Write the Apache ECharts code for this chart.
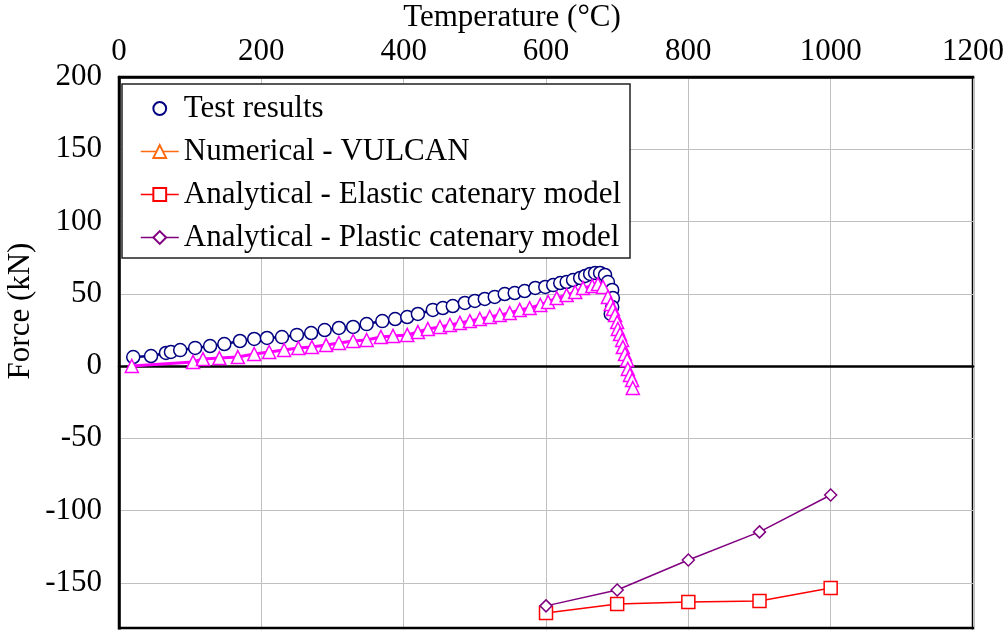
<!DOCTYPE html>
<html>
<head>
<meta charset="utf-8">
<script src="https://cdn.jsdelivr.net/npm/echarts@6/dist/echarts.min.js"></script>
<style>
  html,body{margin:0;padding:0;background:#fff;}
  #main{width:1006px;height:632px;}
</style>
</head>
<body>
<div id="main"></div>
<script>
// axis ticks
var xTicks=[0,200,400,600,800,1000,1200];
var yTicks=[-200,-150,-100,-50,0,50,100,150,200];

// Test results (temperature, force)
var testT=[20,45,66,73,86,107,128,148,170,190,208,229,250,270,289,309,329,348,370,388,405,420,
  441,455,469,486,500,514,528,542,556,570,585,599,610,620,629,638,648,655,662,669,676,683,687,693,694,693,691];
var testF=[6.2,6.9,9,9.7,11,12.5,13.8,15.2,17.3,18.7,19.4,20,21.5,22.8,24.9,26.3,27,29,31.1,32.5,33.9,36,
  38.8,40.1,41.5,43.6,45,46.4,47.8,49.8,50.5,51.9,54,54.7,56,57.4,58.1,59.5,60.9,62.3,63.7,64.4,64.4,63,58.1,52.6,47,40.8,36];

// Numerical - VULCAN
var vulT=[18,104,118,141,167,190,211,232,252,271,291,309,329,348,368,385,405,420,434,451,465,479,493,507,521,535,549,563,577,592,
  603,615,629,641,652,665,673,680,687,691,694,697,700,701,704,707,708,711,714,715,718,721,722];
var vulF=[0,2.8,4.8,5.5,6.2,8.3,9.7,11.1,12.5,13.1,14.5,15.9,17.3,18,20.1,20.8,21.5,23.5,25.6,27,28.4,29.8,31.1,32.5,33.9,35.3,36.7,38.8,40.1,42.2,
  44.3,47,49.1,51.2,54,55.4,56.7,54.7,47.8,42.9,39.4,35.3,30.4,25.6,22.1,18,13.1,8.3,4.2,-2.1,-6.2,-9.7,-15.2];

// Analytical models
var anaT=[600,700,800,900,1000];
var elasticF=[-171,-164.7,-163.3,-162.6,-153.6];
var plasticF=[-166,-155,-134.3,-114.8,-89.3];

var font="Liberation Serif";

var pairs=function(xs,ys){
  var out=[];
  for(var i=0;i<xs.length;i++){ out.push([xs[i],ys[i]]); }
  return out;
}
var plain=function(v){ return String(v); }

var myChart=echarts.init(document.getElementById('main'));

var options={
  animation:false,
  backgroundColor:'#fff',
  grid:{
    left:119,top:77,width:854,height:578,
    outerBoundsMode:'none',containLabel:false,
    show:true,borderColor:'#000',borderWidth:2.5,backgroundColor:'transparent'
  },
  legend:{
    orient:'vertical',
    left:122,top:84,
    backgroundColor:'#fff',
    borderColor:'#222',borderWidth:1.5,
    padding:[9,9,5,18],
    itemGap:12,
    itemWidth:38,itemHeight:16,
    textStyle:{fontFamily:font,fontSize:31,color:'#000'},
    data:[
      {name:'Test results',lineStyle:{width:0,opacity:0}},
      {name:'Numerical - VULCAN',itemStyle:{borderColor:'#ff6a10'},lineStyle:{color:'#ff6a10',width:1.5}},
      {name:'Analytical - Elastic catenary model',lineStyle:{width:1.5}},
      {name:'Analytical - Plastic catenary model',lineStyle:{width:1.5}}
    ]
  },
  xAxis:[
    {
      type:'value',position:'top',min:xTicks[0],max:xTicks[xTicks.length-1],interval:200,
      axisLine:{show:true,onZero:false,lineStyle:{color:'#000',width:2.5}},
      axisTick:{show:false},
      axisLabel:{margin:10,color:'#000',fontFamily:font,fontSize:31,formatter:plain},
      splitLine:{show:true,lineStyle:{color:'#c0c0c0',width:1}}
    },
    {
      // zero line
      type:'value',position:'bottom',min:xTicks[0],max:xTicks[xTicks.length-1],interval:200,
      axisLine:{show:true,onZero:true,lineStyle:{color:'#000',width:2.5}},
      axisTick:{show:false},axisLabel:{show:false},splitLine:{show:false}
    }
  ],
  yAxis:{
    type:'value',min:yTicks[0],max:yTicks[yTicks.length-1],interval:50,
    axisLine:{show:true,onZero:false,lineStyle:{color:'#000',width:2.5}},
    axisTick:{show:false},
    axisLabel:{margin:17,color:'#000',fontFamily:font,fontSize:31,formatter:plain},
    splitLine:{show:true,lineStyle:{color:'#c0c0c0',width:1}}
  },
  graphic:[
    {type:'rect',shape:{x:0,y:629.5,width:1006,height:10},style:{fill:'#fff'},z:50},
    {type:'line',shape:{x1:118,y1:628,x2:974,y2:628},style:{stroke:'#000',lineWidth:2.5},z:51},
    {type:'text',x:512,y:18,style:{text:'Temperature (°C)',font:'31px "Liberation Serif"',fill:'#000',textAlign:'center',textVerticalAlign:'middle'},z:51},
    {type:'text',x:21,y:311,rotation:Math.PI/2,style:{text:'Force (kN)',font:'31px "Liberation Serif"',fill:'#000',textAlign:'center',textVerticalAlign:'middle'},z:51}
  ],
  series:[
    {
      name:'Test results',type:'line',xAxisIndex:0,
      symbol:'circle',symbolSize:13,
      itemStyle:{color:'#fff',borderColor:'#000080',borderWidth:1.5},
      lineStyle:{color:'#000080',width:2.5},
      data:pairs(testT,testF)
    },
    {
      name:'Numerical - VULCAN',type:'line',xAxisIndex:0,
      symbol:'triangle',symbolSize:13,
      itemStyle:{color:'#fff',borderColor:'#ff00ff',borderWidth:1.5},
      lineStyle:{color:'#ff00ff',width:3},
      data:pairs(vulT,vulF)
    },
    {
      name:'Analytical - Elastic catenary model',type:'line',xAxisIndex:0,
      symbol:'rect',symbolSize:13,
      itemStyle:{color:'#fff',borderColor:'#ff0000',borderWidth:1.5},
      lineStyle:{color:'#ff0000',width:1.5},
      data:pairs(anaT,elasticF)
    },
    {
      name:'Analytical - Plastic catenary model',type:'line',xAxisIndex:0,
      symbol:'diamond',symbolSize:12,
      itemStyle:{color:'#fff',borderColor:'#800080',borderWidth:1.5},
      lineStyle:{color:'#800080',width:1.5},
      data:pairs(anaT,plasticF)
    }
  ]
};

myChart.setOption(options);
</script>
</body>
</html>
